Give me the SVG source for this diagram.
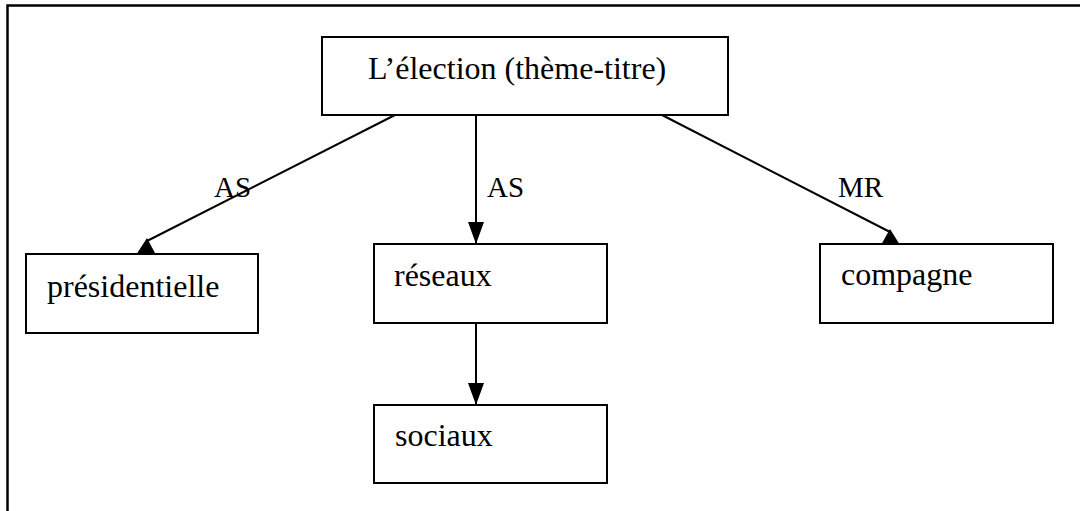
<svg xmlns="http://www.w3.org/2000/svg" width="1080" height="511" viewBox="0 0 1080 511">
  <style>
    .box { fill: #ffffff; stroke: #000000; stroke-width: 2; }
    .txt { font-family: "Liberation Serif", "Times New Roman", serif; font-size: 32px; fill: #000000; }
    .lbl { font-family: "Liberation Serif", "Times New Roman", serif; font-size: 29px; fill: #000000; }
    .edge { stroke: #000000; stroke-width: 2; fill: none; }
    .head { fill: #000000; stroke: none; }
  </style>
  <defs>
    <marker id="arrow" viewBox="0 0 22 16" refX="22" refY="8" markerWidth="22" markerHeight="16" markerUnits="userSpaceOnUse" orient="auto">
      <path d="M0,0 L22,8 L0,16 Z" fill="#000000"/>
    </marker>
  </defs>
  <rect x="0" y="0" width="1080" height="511" fill="#ffffff"/>
  <g id="frame">
    <path d="M7.5,511 L7.5,5.5 L1080,5.5" fill="none" stroke="#000000" stroke-width="2.5"/>
  </g>
  <g id="connectors">
    <line class="edge" x1="395" y1="115" x2="147" y2="241"/>
    <polygon class="head" points="136,255 156,255 147,238"/>
    <line class="edge" x1="476" y1="115" x2="476" y2="244" marker-end="url(#arrow)"/>
    <line class="edge" x1="662" y1="115" x2="890" y2="232"/>
    <polygon class="head" points="881,245 900,245 890,229"/>
    <line class="edge" x1="476" y1="323" x2="476" y2="405" marker-end="url(#arrow)"/>
    <text class="lbl" x="214" y="197">AS</text>
    <text class="lbl" x="487" y="197">AS</text>
    <text class="lbl" x="838" y="197">MR</text>
  </g>
  <g id="node-election">
    <rect class="box" x="322" y="37" width="406" height="78"/>
    <text class="txt" x="368" y="79">L’élection (thème-titre)</text>
  </g>
  <g id="node-presidentielle">
    <rect class="box" x="26" y="254" width="232" height="79"/>
    <text class="txt" x="47" y="297">présidentielle</text>
  </g>
  <g id="node-reseaux">
    <rect class="box" x="374" y="244" width="233" height="79"/>
    <text class="txt" x="394" y="286">réseaux</text>
  </g>
  <g id="node-sociaux">
    <rect class="box" x="374" y="405" width="233" height="78"/>
    <text class="txt" x="395" y="446">sociaux</text>
  </g>
  <g id="node-compagne">
    <rect class="box" x="820" y="244" width="233" height="79"/>
    <text class="txt" x="841" y="285">compagne</text>
  </g>
</svg>
